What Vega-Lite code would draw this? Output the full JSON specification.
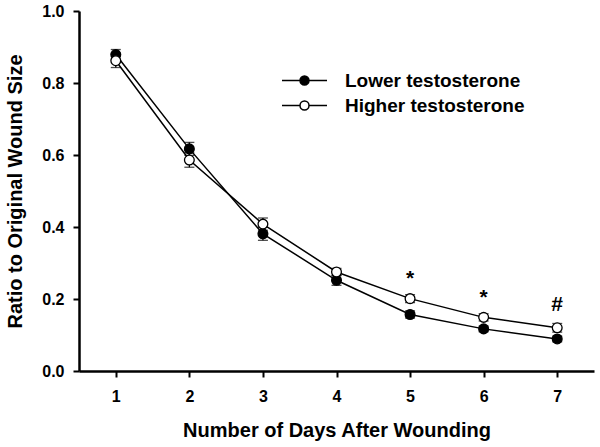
{
  "$schema": "https://vega.github.io/schema/vega-lite/v6.json",
  "width": 515,
  "height": 360,
  "autosize": {"type": "none"},
  "padding": {"left": 79, "top": 11, "right": 6, "bottom": 76},
  "background": "white",
  "config": {"view": {"stroke": null}, "font": "Liberation Sans"},
  "data": {
    "values": [
      {"day": 1, "group": "Lower testosterone", "value": 0.879, "lo": 0.865, "hi": 0.893},
      {"day": 2, "group": "Lower testosterone", "value": 0.617, "lo": 0.599, "hi": 0.635},
      {"day": 3, "group": "Lower testosterone", "value": 0.381, "lo": 0.363, "hi": 0.399},
      {"day": 4, "group": "Lower testosterone", "value": 0.252, "lo": 0.238, "hi": 0.266},
      {"day": 5, "group": "Lower testosterone", "value": 0.157, "lo": 0.147, "hi": 0.167},
      {"day": 6, "group": "Lower testosterone", "value": 0.117, "lo": 0.109, "hi": 0.125},
      {"day": 7, "group": "Lower testosterone", "value": 0.089, "lo": 0.081, "hi": 0.097},
      {"day": 1, "group": "Higher testosterone", "value": 0.862, "lo": 0.843, "hi": 0.881},
      {"day": 2, "group": "Higher testosterone", "value": 0.586, "lo": 0.566, "hi": 0.606},
      {"day": 3, "group": "Higher testosterone", "value": 0.408, "lo": 0.391, "hi": 0.425},
      {"day": 4, "group": "Higher testosterone", "value": 0.275, "lo": 0.265, "hi": 0.285},
      {"day": 5, "group": "Higher testosterone", "value": 0.201, "lo": 0.190, "hi": 0.212},
      {"day": 6, "group": "Higher testosterone", "value": 0.149, "lo": 0.139, "hi": 0.159},
      {"day": 7, "group": "Higher testosterone", "value": 0.120, "lo": 0.108, "hi": 0.132}
    ]
  },
  "encoding": {
    "x": {
      "field": "day",
      "type": "quantitative",
      "scale": {"domain": [0.5, 7.5], "nice": false, "zero": false},
      "axis": {
        "values": [1, 2, 3, 4, 5, 6, 7],
        "format": "d",
        "grid": false,
        "domainColor": "black",
        "domainWidth": 2.5,
        "tickColor": "black",
        "tickWidth": 2,
        "tickSize": 6,
        "labelFontSize": 16,
        "labelFontWeight": "bold",
        "labelColor": "black",
        "labelPadding": 11,
        "title": "Number of Days After Wounding",
        "titleFontSize": 20,
        "titleFontWeight": "bold",
        "titleColor": "black",
        "titlePadding": 16
      }
    }
  },
  "layer": [
    {
      "mark": {"type": "line", "stroke": "black", "strokeWidth": 1.5},
      "encoding": {
        "detail": {"field": "group"},
        "y": {
          "field": "value",
          "type": "quantitative",
          "scale": {"domain": [0, 1], "nice": false},
          "axis": {
            "values": [0, 0.2, 0.4, 0.6, 0.8, 1.0],
            "format": ".1f",
            "grid": false,
            "domainColor": "black",
            "domainWidth": 2.5,
            "tickColor": "black",
            "tickWidth": 2,
            "tickSize": 6,
            "labelFontSize": 16,
            "labelFontWeight": "bold",
            "labelColor": "black",
            "labelPadding": 9,
            "title": "Ratio to Original Wound Size",
            "titleFontSize": 20,
            "titleFontWeight": "bold",
            "titleColor": "black",
            "titlePadding": 16
          }
        }
      }
    },
    {
      "mark": {"type": "rule", "stroke": "black", "strokeWidth": 1.3},
      "encoding": {
        "y": {"field": "lo", "type": "quantitative"},
        "y2": {"field": "hi"}
      }
    },
    {
      "mark": {"type": "tick", "orient": "horizontal", "color": "black", "size": 10, "thickness": 1.3},
      "encoding": {"y": {"field": "lo", "type": "quantitative"}}
    },
    {
      "mark": {"type": "tick", "orient": "horizontal", "color": "black", "size": 10, "thickness": 1.3},
      "encoding": {"y": {"field": "hi", "type": "quantitative"}}
    },
    {
      "mark": {"type": "point", "shape": "circle", "filled": true, "size": 95, "stroke": "black", "strokeWidth": 1.3, "opacity": 1},
      "encoding": {
        "y": {"field": "value", "type": "quantitative"},
        "fill": {
          "field": "group",
          "type": "nominal",
          "scale": {"domain": ["Lower testosterone", "Higher testosterone"], "range": ["black", "white"]},
          "legend": {
            "orient": "none",
            "legendX": 216,
            "legendY": 60,
            "title": null,
            "symbolType": "M-4.5,0L-0.9,0M0.9,0L4.5,0M0.9,0A0.9,0.9,0,1,1,-0.9,0A0.9,0.9,0,1,1,0.9,0Z",
            "symbolSize": 100,
            "symbolStrokeColor": "black",
            "symbolStrokeWidth": 1.5,
            "symbolOpacity": 1,
            "labelFontSize": 19,
            "labelFontWeight": "bold",
            "labelColor": "black",
            "labelLimit": 400,
            "labelOffset": 31,
            "rowPadding": 5
          }
        },
        "order": {"field": "group", "sort": "descending"}
      }
    },
    {
      "data": {
        "values": [
          {"day": 5, "pos": 0.240, "note": "*"},
          {"day": 6, "pos": 0.187, "note": "*"},
          {"day": 7, "pos": 0.168, "note": "#"}
        ]
      },
      "mark": {"type": "text", "fontSize": 21, "fontWeight": "bold", "color": "black", "baseline": "alphabetic", "align": "center"},
      "encoding": {
        "y": {"field": "pos", "type": "quantitative"},
        "text": {"field": "note"}
      }
    }
  ]
}
